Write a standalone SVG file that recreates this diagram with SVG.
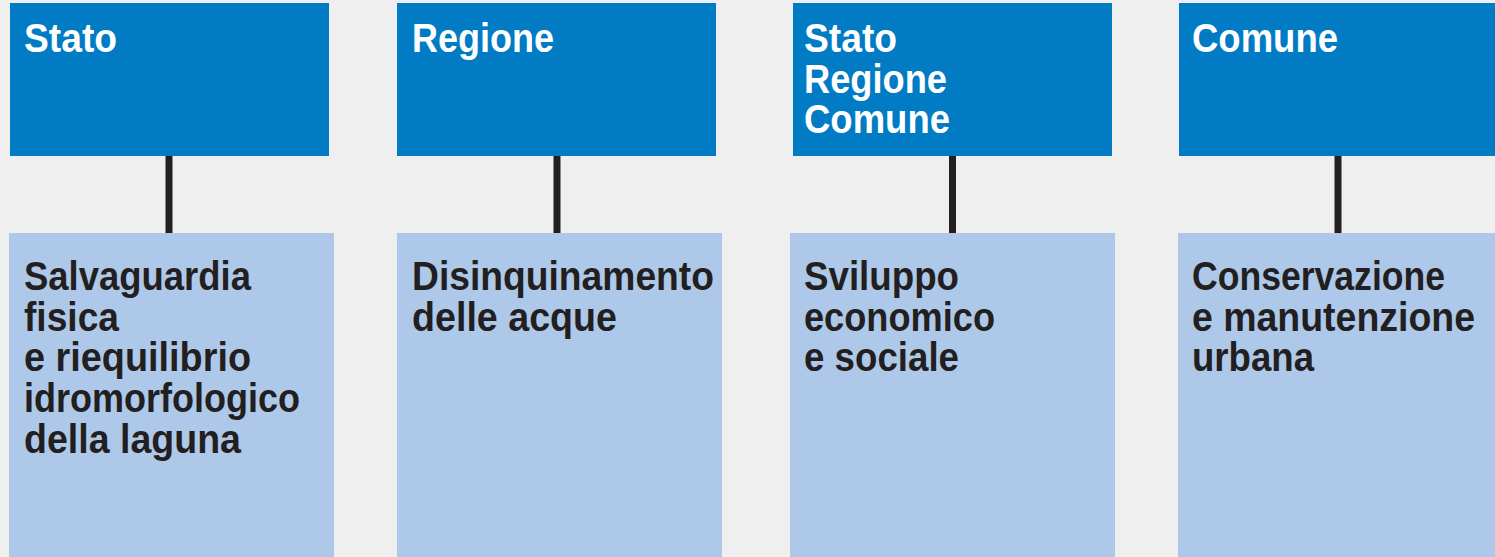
<svg xmlns="http://www.w3.org/2000/svg" width="1495" height="557" viewBox="0 0 1495 557">
<style>
.top{fill:#007BC4}
.bot{fill:#ADC8E8}
.th{font-family:"Liberation Sans",Arial,sans-serif;font-weight:bold;font-size:40px;fill:#ffffff}
.tb{font-family:"Liberation Sans",Arial,sans-serif;font-weight:bold;font-size:40px;fill:#231F20}
.conn{stroke:#231F20;stroke-width:7;fill:none}
</style>
<rect x="0" y="0" width="1495" height="557" fill="#EFEFEF"/>
<g id="connectors">
<line class="conn" x1="169" y1="155" x2="169" y2="234"/>
<line class="conn" x1="557" y1="155" x2="557" y2="234"/>
<line class="conn" x1="952.5" y1="155" x2="952.5" y2="234"/>
<line class="conn" x1="1338" y1="155" x2="1338" y2="234"/>
</g>
<g id="node-stato">
<rect class="top" x="10" y="3" width="319" height="153"/>
<text class="th" x="24" y="52" textLength="93" lengthAdjust="spacingAndGlyphs">Stato</text>
</g>
<g id="node-regione">
<rect class="top" x="397" y="3" width="319" height="153"/>
<text class="th" x="412" y="52" textLength="142" lengthAdjust="spacingAndGlyphs">Regione</text>
</g>
<g id="node-stato-regione-comune">
<rect class="top" x="793" y="3" width="319" height="153"/>
<text class="th" x="804" y="52" textLength="93" lengthAdjust="spacingAndGlyphs">Stato</text>
<text class="th" x="804" y="92.5" textLength="143" lengthAdjust="spacingAndGlyphs">Regione</text>
<text class="th" x="804" y="132.5" textLength="146" lengthAdjust="spacingAndGlyphs">Comune</text>
</g>
<g id="node-comune">
<rect class="top" x="1179" y="3" width="316" height="153"/>
<text class="th" x="1192" y="52" textLength="146" lengthAdjust="spacingAndGlyphs">Comune</text>
</g>
<g id="node-salvaguardia">
<rect class="bot" x="9" y="233" width="325" height="324"/>
<text class="tb" x="24" y="289.5" textLength="227" lengthAdjust="spacingAndGlyphs">Salvaguardia</text>
<text class="tb" x="24" y="330.5" textLength="95" lengthAdjust="spacingAndGlyphs">fisica</text>
<text class="tb" x="24" y="371" textLength="227" lengthAdjust="spacingAndGlyphs">e riequilibrio</text>
<text class="tb" x="24" y="412" textLength="276" lengthAdjust="spacingAndGlyphs">idromorfologico</text>
<text class="tb" x="24" y="453" textLength="217" lengthAdjust="spacingAndGlyphs">della laguna</text>
</g>
<g id="node-disinquinamento">
<rect class="bot" x="397" y="233" width="325" height="324"/>
<text class="tb" x="412" y="289.5" textLength="302" lengthAdjust="spacingAndGlyphs">Disinquinamento</text>
<text class="tb" x="412" y="330.5" textLength="205" lengthAdjust="spacingAndGlyphs">delle acque</text>
</g>
<g id="node-sviluppo">
<rect class="bot" x="790" y="233" width="325" height="324"/>
<text class="tb" x="804" y="289.5" textLength="155" lengthAdjust="spacingAndGlyphs">Sviluppo</text>
<text class="tb" x="804" y="330.5" textLength="191" lengthAdjust="spacingAndGlyphs">economico</text>
<text class="tb" x="804" y="371" textLength="155" lengthAdjust="spacingAndGlyphs">e sociale</text>
</g>
<g id="node-conservazione">
<rect class="bot" x="1178" y="233" width="317" height="324"/>
<text class="tb" x="1192" y="289.5" textLength="253" lengthAdjust="spacingAndGlyphs">Conservazione</text>
<text class="tb" x="1192" y="330.5" textLength="283" lengthAdjust="spacingAndGlyphs">e manutenzione</text>
<text class="tb" x="1192" y="371" textLength="122" lengthAdjust="spacingAndGlyphs">urbana</text>
</g>
</svg>
